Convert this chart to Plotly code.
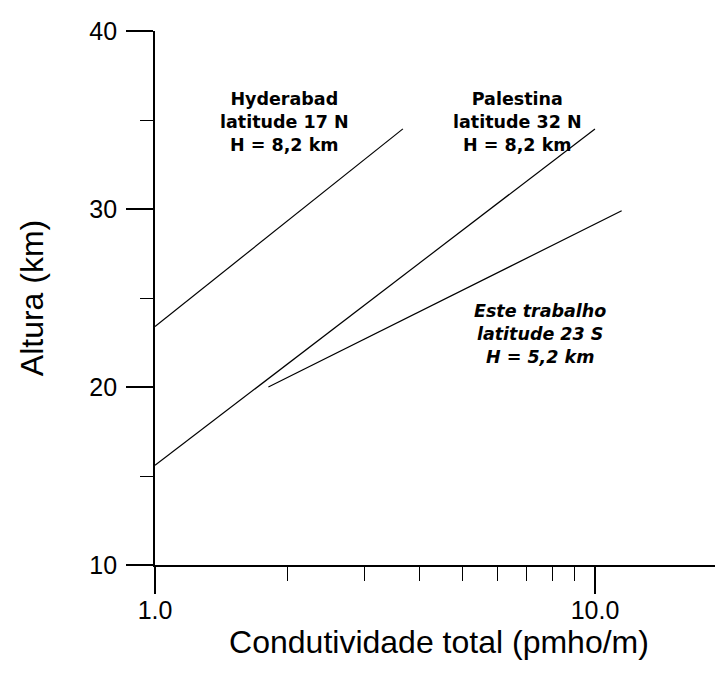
import plotly.graph_objects as go

# altura (km) versus condutividade total (pmho/m), ajustes lineares em log
hyderabad_x = [1.0, 3.66]
hyderabad_y = [23.4, 34.5]

palestina_x = [1.0, 10.0]
palestina_y = [15.6, 34.5]

este_trabalho_x = [1.81, 11.5]
este_trabalho_y = [20.0, 29.9]

y_ticks = [10, 20, 30, 40]
x_ticks = [1, 10]
x_tick_labels = ["1.0", "10.0"]
x_minor = [2, 3, 4, 5, 6, 7, 8, 9]

FONT = "Liberation Sans, Arial, sans-serif"
LABEL_FONT = "DejaVu Sans, sans-serif"

fig = go.Figure()

for xs, ys in [
    (hyderabad_x, hyderabad_y),
    (palestina_x, palestina_y),
    (este_trabalho_x, este_trabalho_y),
]:
    fig.add_trace(
        go.Scatter(
            x=xs,
            y=ys,
            mode="lines",
            line=dict(color="black", width=1.2),
            showlegend=False,
            hoverinfo="skip",
        )
    )

annotations = [
    dict(x=0.295, y=34.9, text="<b>Hyderabad<br>latitude 17 N<br>H = 8,2 km</b>"),
    dict(x=0.825, y=34.9, text="<b>Palestina<br>latitude 32 N<br>H = 8,2 km</b>"),
    dict(x=0.875, y=23.0, text="<b><i>Este trabalho<br>latitude 23 S<br>H = 5,2 km</i></b>"),
]
for a in annotations:
    fig.add_annotation(
        x=a["x"],
        y=a["y"],
        xref="x",
        yref="y",
        text=a["text"],
        showarrow=False,
        align="center",
        xanchor="center",
        yanchor="middle",
        font=dict(family=LABEL_FONT, size=17.5, color="black"),
    )

# the page body adds an 8 px offset, so the figure is a bit smaller than the window
fig.update_layout(
    width=715,
    height=658,
    margin=dict(l=147, r=0, t=23, b=101),
    plot_bgcolor="white",
    paper_bgcolor="white",
    font=dict(family=FONT, size=25, color="black"),
)

fig.update_xaxes(
    type="log",
    range=[0, 1.291],
    tickvals=x_ticks,
    ticktext=x_tick_labels,
    ticks="outside",
    ticklen=27,
    tickwidth=1.5,
    tickcolor="black",
    minor=dict(tickvals=x_minor, ticks="outside", ticklen=14, tickwidth=1.3, tickcolor="black"),
    showgrid=False,
    zeroline=False,
    showline=True,
    linecolor="black",
    linewidth=1.8,
    ticklabelstandoff=-5,
    tickfont=dict(size=25),
    title=dict(text="Condutividade total (pmho/m)", font=dict(size=32), standoff=5),
)

fig.update_yaxes(
    range=[10, 40],
    tickvals=y_ticks,
    ticks="outside",
    ticklen=27,
    tickwidth=1.5,
    tickcolor="black",
    minor=dict(dtick=5, ticks="outside", ticklen=13, tickwidth=1.3, tickcolor="black"),
    showgrid=False,
    zeroline=False,
    showline=True,
    linecolor="black",
    linewidth=1.8,
    ticklabelstandoff=4,
    tickfont=dict(size=25),
    title=dict(text="Altura (km)", font=dict(size=32), standoff=36),
)

fig.write_html("out.html")
